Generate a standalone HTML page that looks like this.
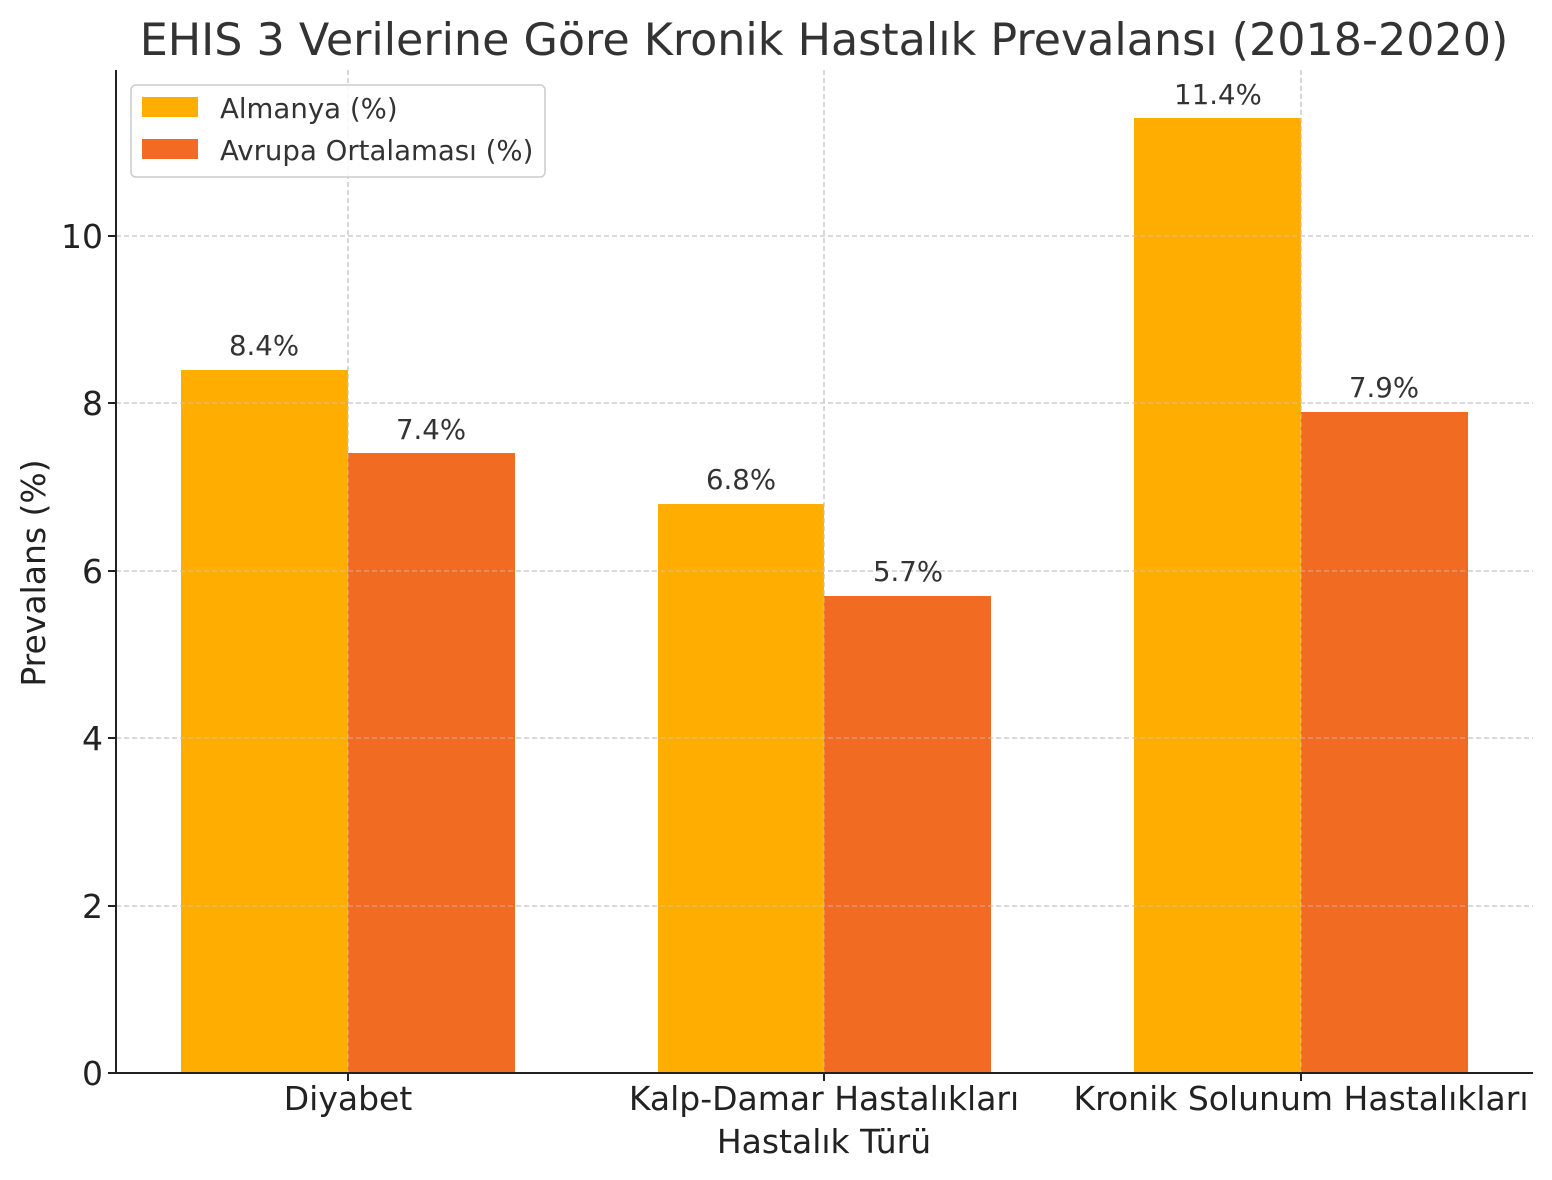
<!DOCTYPE html>
<html><head><meta charset="utf-8"><style>
html,body{margin:0;padding:0;background:#fff;}
svg{display:block;font-family:"DejaVu Sans","Liberation Sans",sans-serif;}
</style></head><body>
<svg width="1552" height="1180" viewBox="0 0 1552 1180" xmlns="http://www.w3.org/2000/svg">
<rect width="1552" height="1180" fill="#fff"/>
<text x="824" y="55" font-size="44.4" text-anchor="middle" fill="#333">EHIS 3 Verilerine Göre Kronik Hastalık Prevalansı (2018-2020)</text>
<g stroke="#c8c8c8" stroke-width="1.3" stroke-dasharray="5,3">
<line x1="116" x2="1533" y1="906" y2="906"/>
<line x1="116" x2="1533" y1="738" y2="738"/>
<line x1="116" x2="1533" y1="571" y2="571"/>
<line x1="116" x2="1533" y1="403" y2="403"/>
<line x1="116" x2="1533" y1="236" y2="236"/>
<line x1="348" x2="348" y1="70" y2="1073"/>
<line x1="824" x2="824" y1="70" y2="1073"/>
<line x1="1301" x2="1301" y1="70" y2="1073"/>
</g>
<g fill="#FFAE00">
<rect x="181" y="370" width="167" height="703"/>
<rect x="658" y="504" width="166" height="569"/>
<rect x="1134" y="118" width="167" height="955"/>
</g>
<g fill="#F26B22">
<rect x="348" y="453" width="167" height="620"/>
<rect x="824" y="596" width="167" height="477"/>
<rect x="1301" y="412" width="167" height="661"/>
</g>
<g stroke="#c8c8c8" stroke-width="1.3" stroke-dasharray="5,3" opacity="0.6">
<line x1="348" x2="348" y1="70" y2="1073"/>
<line x1="824" x2="824" y1="70" y2="1073"/>
<line x1="1301" x2="1301" y1="70" y2="1073"/>
<line x1="116" x2="1533" y1="906" y2="906"/>
<line x1="116" x2="1533" y1="738" y2="738"/>
<line x1="116" x2="1533" y1="571" y2="571"/>
<line x1="116" x2="1533" y1="403" y2="403"/>
<line x1="116" x2="1533" y1="236" y2="236"/>
</g>
<g font-size="27.6" fill="#333" text-anchor="middle">
<text x="264" y="355">8.4%</text>
<text x="431" y="439">7.4%</text>
<text x="741" y="489">6.8%</text>
<text x="908" y="581">5.7%</text>
<text x="1218" y="104">11.4%</text>
<text x="1384" y="397">7.9%</text>
</g>
<line x1="116" x2="116" y1="70" y2="1074" stroke="#222" stroke-width="2"/>
<line x1="115" x2="1533" y1="1073" y2="1073" stroke="#222" stroke-width="2"/>
<g stroke="#222" stroke-width="2">
<line x1="108" x2="116" y1="1073" y2="1073"/>
<line x1="108" x2="116" y1="906" y2="906"/>
<line x1="108" x2="116" y1="738" y2="738"/>
<line x1="108" x2="116" y1="571" y2="571"/>
<line x1="108" x2="116" y1="403" y2="403"/>
<line x1="108" x2="116" y1="236" y2="236"/>
<line x1="348" x2="348" y1="1073" y2="1081"/>
<line x1="824" x2="824" y1="1073" y2="1081"/>
<line x1="1301" x2="1301" y1="1073" y2="1081"/>
</g>
<g font-size="33" fill="#222" text-anchor="end">
<text x="103" y="1085">0</text>
<text x="103" y="918">2</text>
<text x="103" y="750">4</text>
<text x="103" y="583">6</text>
<text x="103" y="415">8</text>
<text x="103" y="248">10</text>
</g>
<g font-size="33" fill="#222" text-anchor="middle">
<text x="348" y="1110">Diyabet</text>
<text x="824" y="1110">Kalp-Damar Hastalıkları</text>
<text x="1301" y="1110">Kronik Solunum Hastalıkları</text>
<text x="824" y="1153">Hastalık Türü</text>
<text transform="translate(45,573) rotate(-90)">Prevalans (%)</text>
</g>
<rect x="131" y="85" width="414" height="92" rx="5" fill="#fff" fill-opacity="0.85" stroke="#ccc" stroke-width="1.5"/>
<rect x="142" y="97" width="56" height="20" fill="#FFAE00"/>
<rect x="142" y="139" width="56" height="20" fill="#F26B22"/>
<g font-size="27.6" fill="#333">
<text x="220" y="118">Almanya (%)</text>
<text x="220" y="160">Avrupa Ortalaması (%)</text>
</g>
</svg>
</body></html>
